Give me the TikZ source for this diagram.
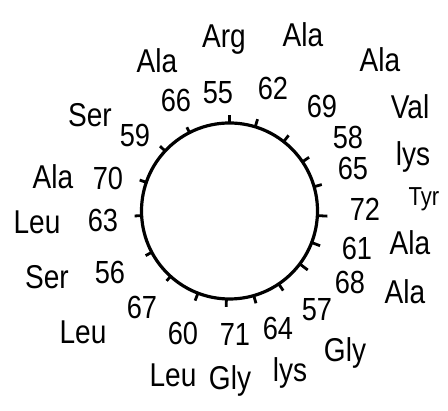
\documentclass[tikz,border=0pt]{standalone}
\usepackage{fontspec}
\setmainfont{Liberation Sans}
\newfontfamily\handfont[FakeStretch=0.85]{Liberation Sans}
\usepackage{tikz}
\usetikzlibrary{positioning}

\begin{document}
\begin{tikzpicture}[
    x=1pt, y=1pt,
    wheel/.style={draw, circle, line width=3.2pt, minimum size=176pt, inner sep=0pt, outer sep=0pt},
    tickmark/.style={line width=2.8pt},
    num/.style={font=\handfont\fontsize{32}{32}\selectfont, inner sep=0pt},
    res/.style={font=\handfont\fontsize{33}{33}\selectfont, inner sep=0pt}
]
\useasboundingbox (0,0) rectangle (448,411);

% the wheel
\node[wheel] (wheel) at (229.5,200) {};

% one tick per residue
\draw[tickmark] (wheel.90) -- ++(90:8);
\draw[tickmark] (wheel.73) -- ++(73:8);
\draw[tickmark] (wheel.52) -- ++(52:8);
\draw[tickmark] (wheel.34) -- ++(34:8);
\draw[tickmark] (wheel.16) -- ++(16:8);
\draw[tickmark] (wheel.-3) -- ++(-3:10);
\draw[tickmark] (wheel.-21) -- ++(-21:9);
\draw[tickmark] (wheel.-37) -- ++(-37:10);
\draw[tickmark] (wheel.-56) -- ++(-56:8);
\draw[tickmark] (wheel.-74) -- ++(-74:8);
\draw[tickmark] (wheel.-92) -- ++(-92:8);
\draw[tickmark] (wheel.-111) -- ++(-111:8);
\draw[tickmark] (wheel.-132) -- ++(-132:6);
\draw[tickmark] (wheel.-152) -- ++(-152:7);
\draw[tickmark] (wheel.-177) -- ++(-177:7);
\draw[tickmark] (wheel.161) -- ++(161:7);
\draw[tickmark] (wheel.137) -- ++(137:7);
\draw[tickmark] (wheel.117) -- ++(117:6);

% residue numbers
\node[num] (n55) at (218,318) {55};
\node[num] (n62) at (273,323) {62};
\node[num] (n69) at (322,305) {69};
\node[num] (n58) at (348,274) {58};
\node[num] (n65) at (353,243) {65};
\node[num] (n72) at (365,202) {72};
\node[num] (n61) at (357,163) {61};
\node[num] (n68) at (350,129) {68};
\node[num] (n57) at (317,101) {57};
\node[num] (n64) at (278,83) {64};
\node[num] (n71) at (235,76) {71};
\node[num] (n60) at (183,78) {60};
\node[num] (n67) at (142,104) {67};
\node[num] (n56) at (110,139) {56};
\node[num] (n63) at (103,191) {63};
\node[num] (n70) at (108,233) {70};
\node[num] (n59) at (135,276) {59};
\node[num] (n66) at (176,311) {66};

% amino acids
\node[res] (arg55) at (224,371) {Arg};
\node[res] (ala62) at (303,376) {Ala};
\node[res] (ala69) at (380,351) {Ala};
\node[res] (val58) at (410,304) {Val};
\node[res] (lys65) at (413,254) {lys};
\node[res, font=\handfont\fontsize{26}{26}\selectfont] (tyr72) at (424,212) {Tyr};
\node[res] (ala61) at (410,168) {Ala};
\node[res] (ala68) at (405,119) {Ala};
\node[res] (gly57) at (345,58) {Gly};
\node[res] (lys64) at (290,38) {lys};
\node[res] (gly71) at (230,30) {Gly};
\node[res] (leu60) at (173,36) {Leu};
\node[res] (leu67) at (83,79) {Leu};
\node[res] (ser56) at (47,134) {Ser};
\node[res] (leu63) at (37,189) {Leu};
\node[res] (ala70) at (53,234) {Ala};
\node[res] (ser59) at (90,296) {Ser};
\node[res] (ala66) at (157,350) {Ala};

\end{tikzpicture}
\end{document}
